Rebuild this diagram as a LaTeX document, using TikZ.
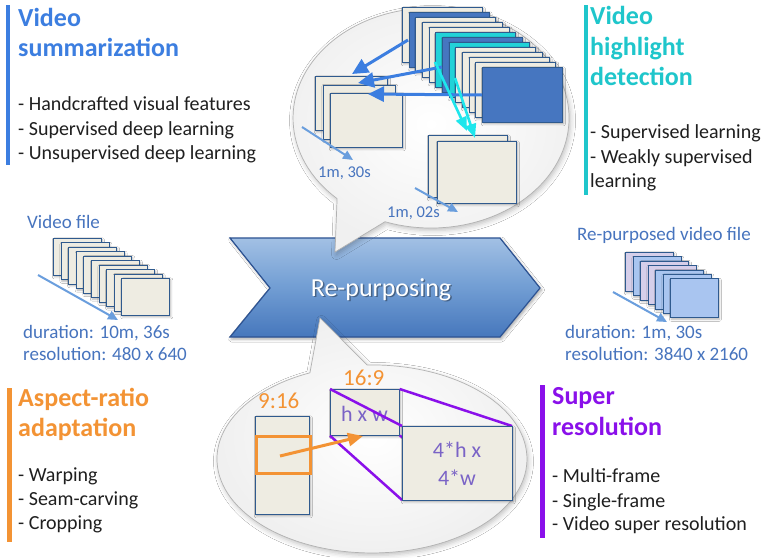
\documentclass[tikz,border=0pt]{standalone}
\usepackage{fontspec}
\setmainfont{Carlito}
\usetikzlibrary{arrows.meta,shadows.blur}
\definecolor{sumblue}{HTML}{3C7EE0}
\definecolor{hlcyan}{HTML}{1FC6CB}
\definecolor{arorange}{HTML}{F39334}
\definecolor{srpurple}{HTML}{8A10EA}
\definecolor{labelblue}{HTML}{4774BE}
\definecolor{timeblue}{HTML}{6A9EDD}
\definecolor{framefill}{HTML}{EEECE2}
\definecolor{frameedge}{HTML}{2F5A8E}
\definecolor{framedark}{HTML}{4676C0}
\definecolor{framecyan}{HTML}{22D2D8}
\definecolor{outlav}{HTML}{D6CFEA}
\definecolor{outblue}{HTML}{A9C5F0}
\definecolor{chevtop}{HTML}{A2C0E4}
\definecolor{chevmid}{HTML}{719DD3}
\definecolor{chevbot}{HTML}{4677BC}
\definecolor{chevedge}{HTML}{2D5393}
\definecolor{cyanarrow}{HTML}{1EE6EC}
\definecolor{sizetext}{HTML}{7A63C6}
\begin{document}
\begin{tikzpicture}[x=1pt,y=-1pt,
  heading/.style={anchor=base west, inner sep=0pt, font=\fontsize{26}{30}\selectfont\bfseries},
  item/.style={anchor=base west, inner sep=0pt, font=\fontsize{20}{24}\selectfont, text=black!88},
  info/.style={anchor=base west, inner sep=0pt, font=\fontsize{19}{23}\selectfont, text=labelblue},
  timelbl/.style={anchor=base west, inner sep=0pt, font=\fontsize{16.5}{20}\selectfont, text=labelblue},
  ratiolbl/.style={anchor=base west, inner sep=0pt, font=\fontsize{23}{27}\selectfont, text=arorange},
  sizelbl/.style={anchor=base, inner sep=0pt, font=\fontsize{22}{26}\selectfont, text=sizetext},
  vframe/.style={draw=frameedge, line width=0.7pt, fill=framefill, anchor=north west, inner sep=0pt,
    blur shadow={shadow xshift=1pt, shadow yshift=-1.5pt, shadow blur radius=2pt, shadow opacity=30}},
  bubble/.style={draw=gray!60, line width=0.7pt, inner color=white, outer color=black!6,
    blur shadow={shadow xshift=1.5pt, shadow yshift=-2.5pt, shadow blur radius=5pt, shadow opacity=25}},
  sumarrow/.style={draw=sumblue, line width=3pt, -{Triangle[length=16pt,width=15pt]}},
  hlarrow/.style={draw=cyanarrow, line width=2.6pt, -{Triangle[length=14pt,width=11pt]}},
  timearrow/.style={draw=timeblue, line width=2pt, -{Triangle[length=10pt,width=9pt]}},
  croparrow/.style={draw=arorange, line width=3pt, -{Triangle[length=15pt,width=13pt]}},
  zoomline/.style={draw=srpurple, line width=2.5pt}
]
\useasboundingbox (0,0) rectangle (767,557);
\fill[white] (0,0) rectangle (767,557);

% ---------- central process chevron ----------
\path[draw=chevedge, line width=1.2pt, top color=chevtop, bottom color=chevbot, middle color=chevmid,
      blur shadow={shadow xshift=1.5pt, shadow yshift=-2pt, shadow blur radius=3pt, shadow opacity=35}]
  (230,238) -- (500,238) -- (540,288) -- (500,337) -- (230,337) -- (270,288) -- cycle;
\node[anchor=base, inner sep=0pt, font=\fontsize{26}{30}\selectfont, text=black, opacity=0.35] (rpshadow) at (382.5,297.5) {Re-purposing};
\node[anchor=base, inner sep=0pt, font=\fontsize{26}{30}\selectfont, text=white] (rp) at (381,296) {Re-purposing};

% ---------- upper bubble: summarization and highlights ----------
\path[bubble] (337.1,198.6) arc[start angle=132.9, end angle=469.5, x radius=138, y radius=110] -- (335,252) -- cycle;

% summary frames
\foreach \i in {0,1,2}
  \node[vframe, minimum width=72pt, minimum height=54pt] (sum\i) at ({315+7.5*\i},{76+8.5*\i}) {};
% highlight frames
\foreach \i in {0,1}
  \node[vframe, minimum width=79pt, minimum height=62pt] (hl\i) at ({428+9*\i},{135+6*\i}) {};
% full sequence of frames
\foreach \i/\c in {0/framefill,1/framedark,2/framefill,3/framefill,4/framefill,5/framecyan,6/framedark,
                   7/framecyan,8/framefill,9/framefill,10/framefill,11/framefill,12/framedark}
  \node[vframe, fill=\c, minimum width=80pt, minimum height=55pt] (seq\i) at ({402+6.67*\i},{7+5*\i}) {};

\coordinate (sa1) at (408,40);  \coordinate (sb1) at (352,74);
\coordinate (sa2) at (442,67);  \coordinate (sb2) at (358,83);
\coordinate (sa3) at (482,95);  \coordinate (sb3) at (368,94);
\draw[sumarrow] (sa1) -- (sb1);
\draw[sumarrow] (sa2) -- (sb2);
\draw[sumarrow] (sa3) -- (sb3);

\coordinate (ha1) at (435,62);  \coordinate (hb1) at (467,131);
\coordinate (ha2) at (455,78);  \coordinate (hb2) at (475,138);
\draw[hlarrow] (ha1) -- (hb1);
\draw[hlarrow] (ha2) -- (hb2);

\coordinate (ta1) at (302,127); \coordinate (tb1) at (353,160);
\coordinate (ta2) at (415,188); \coordinate (tb2) at (458,212);
\draw[timearrow] (ta1) -- (tb1);
\draw[timearrow] (ta2) -- (tb2);
\node[timelbl] (dur1) at (318,177) {1m, 30s};
\node[timelbl] (dur2) at (387,217) {1m, 02s};

% ---------- lower bubble: aspect ratio and resolution ----------
\path[bubble] (367.1,365.0) arc[start angle=268.2, end angle=606.4, x radius=155, y radius=94] -- (320,318) -- cycle;

\node[vframe, minimum width=54pt, minimum height=98pt] (tall) at (255,416) {};
\node[draw=arorange, line width=3pt, anchor=north west, inner sep=0pt, minimum width=54pt, minimum height=37pt] (crop) at (255,435) {};
\node[ratiolbl] (r916) at (258,408) {9:16};
\node[ratiolbl] (r169) at (343,385) {16:9};

\node[vframe, minimum width=69pt, minimum height=46pt] (small) at (330,389) {};
\node[sizelbl] (hw) at (364.5,421) {h x w};
\draw[zoomline] (small.north west) -- (402,426);
\draw[zoomline] (small.north east) -- (512,426);
\draw[zoomline] (small.south west) -- (402,500);
\draw[zoomline] (small.south east) -- (512,500);
\node[vframe, minimum width=110pt, minimum height=74pt] (big) at (402,426) {};
\node[sizelbl] (hw4a) at (457,457) {4*h x};
\node[sizelbl] (hw4b) at (457,485) {4*w};

\coordinate (ca) at (280,456); \coordinate (cb) at (363,436);
\draw[croparrow] (ca) -- (cb);

% ---------- input video ----------
\node[info] (infile) at (27,228) {Video file};
\foreach \i in {0,...,9}
  \node[vframe, minimum width=48pt, minimum height=37pt] (in\i) at ({53+7.6*\i},{238+4.45*\i}) {};
\coordinate (ia) at (38,275); \coordinate (ib) at (118,320);
\draw[timearrow] (ia) -- (ib);
\node[info] (indur) at (23,338) {duration: 10m, 36s};
\node[info] (inres) at (23,360) {resolution: 480 x 640};

% ---------- output video ----------
\node[info] (outfile) at (577,240) {Re-purposed video file};
\foreach \i/\c in {0/outlav,1/outblue,2/outlav,3/outlav,4/outblue,5/outblue,6/outblue}
  \node[vframe, fill=\c, minimum width=48pt, minimum height=39pt] (out\i) at ({625+7.5*\i},{252+4.4*\i}) {};
\coordinate (oa) at (613,292); \coordinate (ob) at (667,322);
\draw[timearrow] (oa) -- (ob);
\node[info] (outdur) at (565,338) {duration: 1m, 30s};
\node[info] (outres) at (565,360) {resolution: 3840 x 2160};

% ---------- task panels ----------
\fill[sumblue] (6,5) rectangle (10,165);
\node[heading, text=sumblue] (vsA) at (18,26) {Video};
\node[heading, text=sumblue] (vsB) at (18,56) {summarization};
\node[item] (vs1) at (18,110) {- Handcrafted visual features};
\node[item] (vs2) at (18,135) {- Supervised deep learning};
\node[item] (vs3) at (18,159) {- Unsupervised deep learning};

\fill[hlcyan] (584,5) rectangle (588,195);
\node[heading, text=hlcyan] (hdA) at (590,24) {Video};
\node[heading, text=hlcyan] (hdB) at (590,55) {highlight};
\node[heading, text=hlcyan] (hdC) at (590,85) {detection};
\node[item] (hd1) at (590,138) {- Supervised learning};
\node[item] (hd2) at (590,163) {- Weakly supervised};
\node[item] (hd3) at (590,187) {learning};

\fill[arorange] (7,388) rectangle (12,542);
\node[heading, text=arorange] (arA) at (18,406) {Aspect-ratio};
\node[heading, text=arorange] (arB) at (18,436) {adaptation};
\node[item] (ar1) at (18,481) {- Warping};
\node[item] (ar2) at (18,505) {- Seam-carving};
\node[item] (ar3) at (18,529) {- Cropping};

\fill[srpurple] (540,385) rectangle (545,538);
\node[heading, text=srpurple] (srA) at (552,404) {Super};
\node[heading, text=srpurple] (srB) at (552,435) {resolution};
\node[item] (sr1) at (552,482) {- Multi-frame};
\node[item] (sr2) at (552,507) {- Single-frame};
\node[item] (sr3) at (552,530) {- Video super resolution};
\end{tikzpicture}
\end{document}
